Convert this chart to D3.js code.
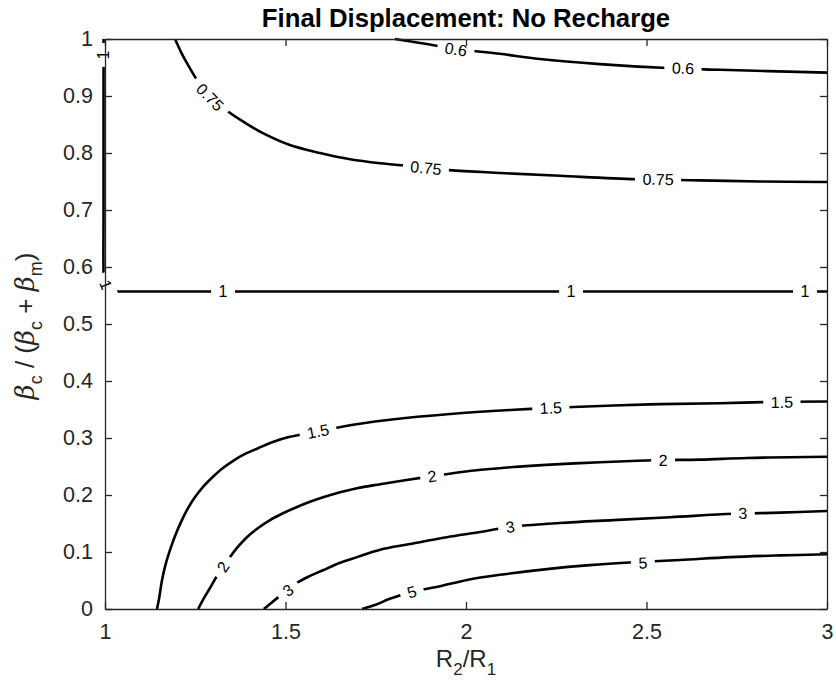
<!DOCTYPE html>
<html>
<head>
<meta charset="utf-8">
<script src="https://cdn.jsdelivr.net/npm/d3@7"></script>
<style>
  body { margin: 0; background: #fff; }
  text { font-family: "Liberation Sans", Arial, sans-serif; }
</style>
</head>
<body>
<svg width="836" height="683"></svg>
<script>
// tick values
const xTicks = [1, 1.5, 2, 2.5, 3];
const yTicks = [0, 0.1, 0.2, 0.3, 0.4, 0.5, 0.6, 0.7, 0.8, 0.9, 1];

// contour lines, [R2/R1, beta ratio]
const c060 = [[1.803, 1.0], [1.873, 0.993], [1.983, 0.982], [2.094, 0.974], [2.205, 0.965],
  [2.371, 0.956], [2.557, 0.949], [2.704, 0.946], [3.0, 0.941]];
const c075 = [[1.194, 1.0], [1.213, 0.974], [1.235, 0.949], [1.255, 0.928], [1.277, 0.911],
  [1.305, 0.893], [1.338, 0.874], [1.388, 0.853], [1.443, 0.833], [1.512, 0.814],
  [1.596, 0.800], [1.679, 0.789], [1.762, 0.782], [1.845, 0.777], [1.953, 0.770],
  [2.094, 0.765], [2.260, 0.760], [2.471, 0.754], [2.648, 0.752], [2.814, 0.750], [3.0, 0.749]];
const c100 = [[3.0, 0.557], [2.5, 0.557], [2.0, 0.557], [1.5, 0.557], [1.1, 0.557],
  [1.04, 0.557], [1.025, 0.557], [1.014, 0.560], [1.004, 0.567], [0.997, 0.578],
  [0.996, 0.59], [0.996, 0.7], [0.996, 0.8], [0.996, 0.9], [0.996, 0.95], [0.996, 1.0]];
const c150 = [[1.144, 0], [1.150, 0.019], [1.158, 0.051], [1.169, 0.081], [1.183, 0.109],
  [1.197, 0.133], [1.213, 0.156], [1.230, 0.177], [1.249, 0.196], [1.271, 0.214],
  [1.296, 0.230], [1.324, 0.246], [1.355, 0.260], [1.388, 0.272], [1.424, 0.282],
  [1.465, 0.293], [1.512, 0.302], [1.568, 0.309], [1.623, 0.316], [1.706, 0.325],
  [1.789, 0.332], [1.956, 0.342], [2.122, 0.349], [2.280, 0.354], [2.510, 0.359],
  [2.704, 0.361], [2.825, 0.363], [3.0, 0.364]];
const c200 = [[1.258, 0], [1.274, 0.019], [1.291, 0.037], [1.310, 0.058], [1.327, 0.074],
  [1.346, 0.091], [1.368, 0.109], [1.393, 0.126], [1.424, 0.142], [1.457, 0.156],
  [1.493, 0.168], [1.532, 0.179], [1.568, 0.188], [1.604, 0.196], [1.651, 0.205],
  [1.698, 0.212], [1.762, 0.219], [1.831, 0.226], [1.906, 0.233], [1.983, 0.240],
  [2.130, 0.249], [2.316, 0.256], [2.524, 0.261], [2.648, 0.262], [2.778, 0.265], [3.0, 0.267]];
const c300 = [[1.440, 0], [1.463, 0.012], [1.485, 0.023], [1.507, 0.033], [1.532, 0.046],
  [1.568, 0.058], [1.604, 0.068], [1.651, 0.081], [1.698, 0.091], [1.762, 0.104],
  [1.845, 0.114], [1.947, 0.126], [2.039, 0.135], [2.122, 0.144], [2.260, 0.151],
  [2.407, 0.156], [2.565, 0.161], [2.740, 0.167], [2.870, 0.169], [3.0, 0.172]];
const c500 = [[1.712, 0], [1.748, 0.007], [1.789, 0.018], [1.850, 0.030], [1.928, 0.040],
  [2.003, 0.051], [2.094, 0.060], [2.224, 0.070], [2.343, 0.077], [2.463, 0.082],
  [2.593, 0.086], [2.731, 0.091], [2.870, 0.094], [3.0, 0.096]];

// inline label positions on each contour
const lab060 = [[1.972, 0.982], [2.601, 0.949]];
const lab075 = [[1.291, 0.898], [1.889, 0.774], [2.532, 0.754]];
const lab100 = [[1.327, 0.557], [2.291, 0.557], [2.939, 0.557], [1.003, 0.569], [0.996, 0.972]];
const lab150 = [[1.590, 0.312], [2.235, 0.353], [2.875, 0.363]];
const lab200 = [[1.327, 0.074], [1.906, 0.233], [2.546, 0.261]];
const lab300 = [[1.507, 0.033], [2.122, 0.144], [2.767, 0.168]];
const lab500 = [[1.850, 0.030], [2.490, 0.081]];

const contours = [
  { level: '0.6', pts: c060, labels: lab060 },
  { level: '0.75', pts: c075, labels: lab075 },
  { level: '1', pts: c100, labels: lab100 },
  { level: '1.5', pts: c150, labels: lab150 },
  { level: '2', pts: c200, labels: lab200 },
  { level: '3', pts: c300, labels: lab300 },
  { level: '5', pts: c500, labels: lab500 }
];

const svg = d3.select('svg');
const axisColor = '#262626';
const mLeft = 105, mRight = 827, mTop = 39, mBottom = 609;

const x = d3.scaleLinear().domain([1, 3]).range([mLeft, mRight]);
const y = d3.scaleLinear().domain([0, 1]).range([mBottom, mTop]);

const line = d3.line()
  .x(d => x(d[0]))
  .y(d => y(d[1]))
  .curve(d3.curveCatmullRom);

// contour lines
const g = svg.append('g');
g.selectAll('path.contour')
  .data(contours)
  .enter().append('path')
  .attr('class', 'contour')
  .attr('d', d => line(d.pts))
  .attr('fill', 'none')
  .attr('stroke', '#000')
  .attr('stroke-width', 2.6);

// direction of the contour near a label, in degrees
function angleAt(pts, px, py) {
  let best = Infinity, ang = 0;
  for (let i = 0; i < pts.length - 1; i++) {
    const ax = x(pts[i][0]), ay = y(pts[i][1]);
    const bx = x(pts[i + 1][0]), by = y(pts[i + 1][1]);
    const d = ((ax + bx) / 2 - px) ** 2 + ((ay + by) / 2 - py) ** 2;
    if (d < best) { best = d; ang = Math.atan2(by - ay, bx - ax) * 180 / Math.PI; }
  }
  if (ang > 90) ang -= 180;
  if (ang < -90) ang += 180;
  return ang;
}

contours.forEach(c => {
  c.labels.forEach(l => {
    const px = x(l[0]), py = y(l[1]);
    const lg = g.append('g')
      .attr('transform', `translate(${px},${py}) rotate(${angleAt(c.pts, px, py)})`);
    const rect = lg.append('rect').attr('fill', '#fff');
    const t = lg.append('text')
      .attr('text-anchor', 'middle')
      .attr('dy', '0.36em')
      .attr('font-size', 16)
      .attr('fill', '#000')
      .text(c.level);
    const w = t.node().getComputedTextLength() + 15;
    rect.attr('x', -w / 2).attr('y', -8).attr('width', w).attr('height', 16);
  });
});

// axes box with inward ticks
function styleAxis(sel) {
  sel.selectAll('path, line').attr('stroke', axisColor).attr('stroke-width', 1.3);
  sel.selectAll('text').attr('fill', axisColor).attr('font-size', 21.5)
    .attr('font-family', '"Liberation Sans", Arial, sans-serif');
}

svg.append('g').attr('transform', `translate(0,${mBottom})`)
  .call(d3.axisBottom(x).tickValues(xTicks).tickFormat(d3.format('')).tickSizeInner(-7).tickSizeOuter(0).tickPadding(15))
  .call(styleAxis);
svg.append('g').attr('transform', `translate(0,${mTop})`)
  .call(d3.axisTop(x).tickValues(xTicks).tickFormat('').tickSizeInner(-7).tickSizeOuter(0))
  .call(styleAxis);
svg.append('g').attr('transform', `translate(${mLeft},0)`)
  .call(d3.axisLeft(y).tickValues(yTicks).tickFormat(d3.format('')).tickSizeInner(-7).tickSizeOuter(0).tickPadding(12))
  .call(styleAxis);
svg.append('g').attr('transform', `translate(${mRight},0)`)
  .call(d3.axisRight(y).tickValues(yTicks).tickFormat('').tickSizeInner(-7).tickSizeOuter(0))
  .call(styleAxis);

// title
svg.append('text')
  .attr('x', (mLeft + mRight) / 2).attr('y', 27)
  .attr('text-anchor', 'middle')
  .attr('font-size', 25.7).attr('font-weight', 'bold')
  .attr('fill', '#000')
  .text('Final Displacement: No Recharge');

// x label R2/R1
const xl = svg.append('text')
  .attr('x', (mLeft + mRight) / 2).attr('y', 667)
  .attr('text-anchor', 'middle')
  .attr('font-size', 24).attr('fill', axisColor);
xl.append('tspan').text('R');
xl.append('tspan').attr('font-size', 17).attr('dy', 8).text('2');
xl.append('tspan').attr('dy', -8).text('/R');
xl.append('tspan').attr('font-size', 17).attr('dy', 8).text('1');

// y label beta_c / (beta_c + beta_m)
const yl = svg.append('text')
  .attr('transform', `translate(34,${(mTop + mBottom) / 2 + 2}) rotate(-90)`)
  .attr('text-anchor', 'middle')
  .attr('font-size', 26).attr('fill', axisColor);
const greek = s => s.attr('font-style', 'italic').attr('font-family', '"DejaVu Serif", serif').attr('font-weight', 300);
yl.append('tspan').call(greek).text('β');
yl.append('tspan').attr('font-size', 18).attr('dy', 8).text('c');
yl.append('tspan').attr('dy', -8).text(' / (');
yl.append('tspan').call(greek).text('β');
yl.append('tspan').attr('font-size', 18).attr('dy', 8).text('c');
yl.append('tspan').attr('dy', -8).text(' + ');
yl.append('tspan').call(greek).text('β');
yl.append('tspan').attr('font-size', 18).attr('dy', 8).text('m');
yl.append('tspan').attr('dy', -8).text(')');
</script>
</body>
</html>
